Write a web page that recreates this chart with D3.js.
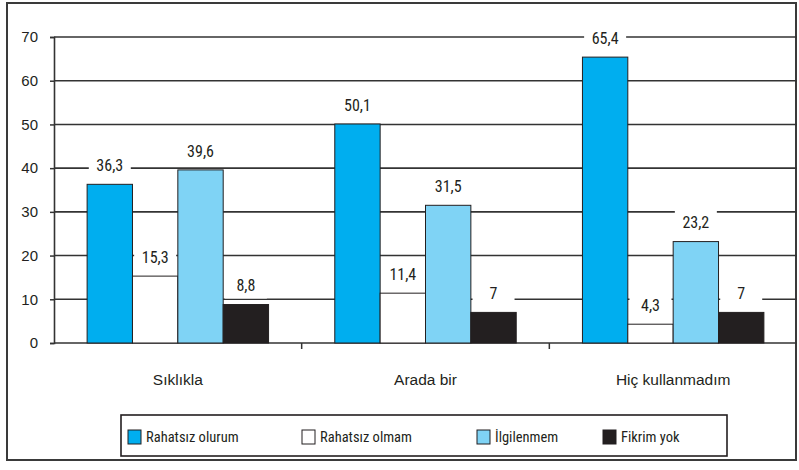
<!DOCTYPE html>
<html><head><meta charset="utf-8">
<script src="https://cdn.jsdelivr.net/npm/d3@7"></script>
<style>
body{margin:0;background:#fff;}
text{font-family:"Liberation Sans Narrow","Roboto Condensed","Liberation Sans",Arial,sans-serif;fill:#231f20;}
</style></head>
<body><svg id="c" width="799" height="470"></svg>
<script>
const categories = ["Sıklıkla", "Arada bir", "Hiç kullanmadım"];
const seriesNames = ["Rahatsız olurum", "Rahatsız olmam", "İlgilenmem", "Fikrim yok"];
const rahatsizOlurum = [36.3, 50.1, 65.4];
const rahatsizOlmam = [15.3, 11.4, 4.3];
const ilgilenmem = [39.6, 31.5, 23.2];
const fikrimYok = [8.8, 7, 7];
const yTicks = [0, 10, 20, 30, 40, 50, 60, 70];
const colors = ["#00aeef", "#ffffff", "#7fd3f5", "#231f20"];

const seriesValues = [rahatsizOlurum, rahatsizOlmam, ilgilenmem, fikrimYok];
const svg = d3.select("#c");

// outer frame
svg.append("rect").attr("x", 7).attr("y", 3).attr("width", 789).attr("height", 457)
  .attr("fill", "#fff").attr("stroke", "#3a3a3a").attr("stroke-width", 2);

const pL = 54, pR = 797, pT = 37, pB = 343;
const y = d3.scaleLinear().domain([0, 70]).range([pB, pT]);
const x0 = d3.scaleBand().domain(categories).range([pL, pR]).paddingInner(0).paddingOuter(0);
const x1 = d3.scaleBand().domain(seriesNames).range([0, x0.bandwidth()]).paddingInner(0).paddingOuter(0.73);

// gridlines
svg.append("g").selectAll("line").data(yTicks).join("line")
  .attr("x1", pL).attr("x2", pR)
  .attr("y1", d => y(d)).attr("y2", d => y(d))
  .attr("stroke", "#333").attr("stroke-width", 1.6);

// y axis
const yAxis = d3.axisLeft(y).tickValues(yTicks).tickSize(4).tickPadding(12).tickFormat(d3.format("d"));
const ya = svg.append("g").attr("transform", `translate(${pL},0)`).call(yAxis);
ya.select(".domain").attr("stroke", "#333").attr("stroke-width", 1.6);
ya.selectAll(".tick line").attr("stroke", "#333").attr("stroke-width", 1.5);
ya.selectAll(".tick text").attr("font-size", 15).style("font-family", '"Liberation Sans Narrow","Liberation Sans",sans-serif').attr("fill", "#231f20");

// x axis
const xa = svg.append("g").attr("transform", `translate(0,${pB})`)
  .call(d3.axisBottom(x0).tickSize(0).tickPadding(31));
xa.select(".domain").remove();
xa.selectAll(".tick text").attr("font-size", 15.5).style("font-family", '"Liberation Sans Narrow","Liberation Sans",sans-serif').attr("fill", "#231f20");
// group separators ticks
svg.append("g").selectAll("line").data(categories.slice(1)).join("line")
  .attr("x1", d => x0(d)).attr("x2", d => x0(d))
  .attr("y1", pB).attr("y2", pB + 6)
  .attr("stroke", "#333").attr("stroke-width", 1.5);

// bars
const data = [];
categories.forEach((c, i) => seriesNames.forEach((s, j) => data.push({c, s, j, v: seriesValues[j][i]})));
const g = svg.append("g");
g.selectAll("rect").data(data).join("rect")
  .attr("x", d => x0(d.c) + x1(d.s))
  .attr("y", d => y(d.v))
  .attr("width", x1.bandwidth())
  .attr("height", d => y(0) - y(d.v))
  .attr("fill", d => colors[d.j])
  .attr("stroke", "#231f20").attr("stroke-width", 1);

// value labels with white boxes
const fmt = v => String(v).replace(".", ",");
const lab = svg.append("g").selectAll("g").data(data).join("g")
  .attr("transform", d => `translate(${x0(d.c) + x1(d.s) + x1.bandwidth() / 2},${y(d.v) - 19})`);
lab.append("rect").attr("x", -21).attr("y", -13).attr("width", 42).attr("height", 26).attr("fill", "#fff");
lab.append("text").attr("text-anchor", "middle").attr("dy", "0.35em").attr("font-size", 16).text(d => fmt(d.v));

// legend
const lg = svg.append("g");
lg.append("rect").attr("x", 121).attr("y", 415).attr("width", 606).attr("height", 41)
  .attr("fill", "#fff").attr("stroke", "#231f20").attr("stroke-width", 1.6);
const legX = [128, 302, 477, 603];
const li = lg.selectAll("g.li").data(seriesNames).join("g").attr("class", "li")
  .attr("transform", (d, i) => `translate(${legX[i]},430)`);
li.append("rect").attr("width", 13).attr("height", 14)
  .attr("fill", (d, i) => colors[i]).attr("stroke", "#231f20").attr("stroke-width", 1);
li.append("text").attr("x", 18).attr("y", 7).attr("dy", "0.35em").attr("font-size", 14.5).text(d => d);
</script></body></html>
